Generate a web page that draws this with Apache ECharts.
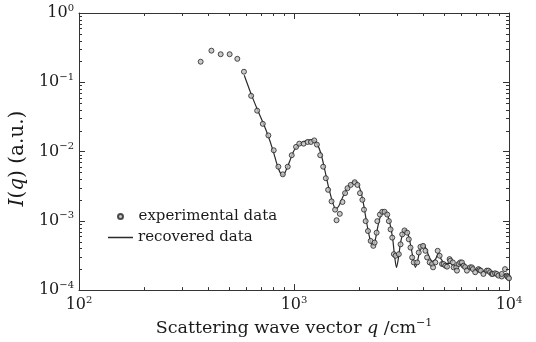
<!DOCTYPE html>
<html>
<head>
<meta charset="utf-8">
<script src="https://cdn.jsdelivr.net/npm/echarts@6/dist/echarts.min.js"></script>
<style>html,body{margin:0;padding:0;background:#fff}#c{width:536px;height:342px}</style>
</head>
<body>
<div id="c"></div>
<script>
// ---- data ----
const expQ = [368, 413, 456, 502, 545, 585, 632, 674, 716, 760, 805, 846, 887, 935, 976, 1022, 1058, 1109, 1157, 1199, 1242, 1278, 1324, 1367, 1406, 1441, 1495, 1553, 1577, 1633, 1681, 1728, 1773, 1836, 1916, 1972, 2027, 2080, 2116, 2154, 2208, 2273, 2339, 2371, 2423, 2441, 2509, 2574, 2638, 2715, 2762, 2813, 2864, 2914, 2967, 3073, 3130, 3187, 3266, 3361, 3419, 3482, 3545, 3606, 3740, 3804, 3873, 3986, 4085, 4159, 4276, 4387, 4435, 4545, 4658, 4758, 4881, 4963, 5056, 5148, 5292, 5333, 5480, 5523, 5684, 5727, 5827, 5931, 6039, 6143, 6250, 6371, 6598, 6720, 6790, 6962, 7209, 7289, 7396, 7603, 7886, 8022, 8166, 8317, 8405, 8614, 8774, 8925, 9252, 9252, 9583, 9759, 9819, 9926, 10000];
const expI = [0.198, 0.286, 0.254, 0.254, 0.218, 0.142, 0.0637, 0.0389, 0.0251, 0.0171, 0.01044, 0.00604, 0.00469, 0.00604, 0.00886, 0.01167, 0.0130, 0.0130, 0.01376, 0.01376, 0.01449, 0.01259, 0.00886, 0.00604, 0.00412, 0.0028, 0.00191, 0.00145, 0.00102, 0.00126, 0.00187, 0.00251, 0.00296, 0.0033, 0.00361, 0.0033, 0.00251, 0.00201, 0.00145, 0.00099, 0.000713, 0.000513, 0.000435, 0.000485, 0.000674, 0.00099, 0.00123, 0.00135, 0.00135, 0.00123, 0.00099, 0.000752, 0.000572, 0.00033, 0.000313, 0.00033, 0.000458, 0.000637, 0.000727, 0.000674, 0.000541, 0.000411, 0.000296, 0.000251, 0.000251, 0.000349, 0.000421, 0.000435, 0.000369, 0.000296, 0.000251, 0.000238, 0.000213, 0.000251, 0.000369, 0.000313, 0.000238, 0.000238, 0.000225, 0.000218, 0.00028, 0.000265, 0.000251, 0.000213, 0.000213, 0.000191, 0.000238, 0.000251, 0.000251, 0.000225, 0.000215, 0.000191, 0.000213, 0.000213, 0.000201, 0.000181, 0.000201, 0.000195, 0.000191, 0.000171, 0.000191, 0.000191, 0.000181, 0.000171, 0.000171, 0.000175, 0.000171, 0.000162, 0.000157, 0.000171, 0.000201, 0.000162, 0.000157, 0.000153, 0.000148];
const fitQ = [587, 632, 674, 718, 758, 799, 834, 861, 890, 918, 958, 1000, 1055, 1113, 1173, 1225, 1278, 1334, 1392, 1452, 1516, 1565, 1616, 1686, 1760, 1836, 1916, 1979, 2043, 2110, 2178, 2248, 2314, 2371, 2448, 2528, 2610, 2695, 2783, 2873, 2935, 2998, 3063, 3130, 3229, 3300, 3407, 3518, 3594, 3671, 3750, 3873, 3998, 4128, 4263, 4401, 4545, 4692, 4844, 5056, 5333, 5623, 5931, 6255, 6598, 6962, 7340, 7743, 8166, 8614, 9086, 9583, 10000];
const fitI = [0.126, 0.0674, 0.0411, 0.026, 0.0169, 0.01033, 0.00652, 0.00501, 0.00454, 0.00535, 0.00744, 0.01033, 0.01259, 0.0139, 0.0146, 0.0146, 0.013, 0.00937, 0.00535, 0.00296, 0.00181, 0.00148, 0.00164, 0.0022, 0.00286, 0.00338, 0.00373, 0.00349, 0.00268, 0.00169, 0.000936, 0.000572, 0.00044, 0.000485, 0.000794, 0.00118, 0.00139, 0.0013, 0.000968, 0.000572, 0.000316, 0.000213, 0.000296, 0.000485, 0.000697, 0.000744, 0.000611, 0.000385, 0.000268, 0.000213, 0.00026, 0.000398, 0.000454, 0.000385, 0.000296, 0.00026, 0.000277, 0.000338, 0.000277, 0.000243, 0.000243, 0.00022, 0.000228, 0.000213, 0.000206, 0.0002, 0.000193, 0.000187, 0.000181, 0.000175, 0.000169, 0.000169, 0.000164];
const xMajor = [100, 1000, 10000];
const yMajor = [1e-4, 1e-3, 1e-2, 1e-1, 1];
const seriesNames = ['experimental data', 'recovered data'];
const xTitle = 'Scattering wave vector ';
const yTitleTail = ' (a.u.)';

// ---- helpers ----
const FONT = 'DejaVu Serif';
const INK = '#1a1a1a';
const AX = '#333';
const TICK = '#333';
function minorValues(lo, hi) {
  const raw = [];
  for (let e = Math.round(Math.log10(lo)); e < Math.round(Math.log10(hi)); e++) {
    for (let m = 2; m <= 9; m++) raw.push(+(m * Math.pow(10, e)).toPrecision(3));
  }
  return raw;
}
function powLabel(v) {
  const e = Math.round(Math.log10(v));
  return '{b|10}{s|' + String(e).replace('-', '\u2212') + '}';
}
const labelRich = {
  b: { fontSize: 16, fontFamily: FONT, color: INK, lineHeight: 20 },
  s: { fontSize: 10, fontFamily: FONT, color: INK, verticalAlign: 'top', lineHeight: 12 }
};
function mkAxis(pos, lo, hi, showLabels, extra) {
  return Object.assign({
    type: 'log', logBase: 10, min: lo, max: hi, position: pos,
    splitLine: { show: false }, splitArea: { show: false },
    axisLine: { show: true, onZero: false, lineStyle: { color: AX, width: 1 } },
    axisTick: { show: true, inside: true, length: 6, lineStyle: { color: TICK, width: 1 } },
    axisLabel: showLabels ? { show: true, formatter: powLabel, rich: labelRich, margin: 5 } : { show: false }
  }, extra || {});
}

const xAxes = [
  mkAxis('bottom', 100, 10000, true, {
    name: '{t|' + xTitle + '}{i|q}{t| /cm}{s|\u22121}',
    nameLocation: 'middle', nameGap: 23,
    nameTextStyle: {
      rich: {
        t: { fontSize: 17.5, fontFamily: FONT, color: INK, lineHeight: 20 },
        i: { fontSize: 17.5, fontFamily: FONT, fontStyle: 'italic', color: INK, lineHeight: 20 },
        s: { fontSize: 11, fontFamily: FONT, color: INK, verticalAlign: 'top', lineHeight: 12 }
      }
    }
  }),
  mkAxis('top', 100, 10000, false)
];
const yAxes = [
  mkAxis('left', 1e-4, 1, true, {
    name: '{i|I}{t|(}{i|q}{t|)' + yTitleTail + '}',
    nameLocation: 'middle', nameGap: 42, nameRotate: 90,
    nameTextStyle: {
      padding: [0, 14, 0, 0],
      rich: {
        t: { fontSize: 20, fontFamily: FONT, color: INK, lineHeight: 22 },
        i: { fontSize: 20, fontFamily: FONT, fontStyle: 'italic', color: INK, lineHeight: 22 }
      }
    }
  }),
  mkAxis('right', 1e-4, 1, false)
];

const legendText = { fontFamily: FONT, fontSize: 15, color: INK };
const chart = echarts.init(document.getElementById('c'), null, { renderer: 'canvas' });
chart.setOption({
  animation: false,
  backgroundColor: '#fff',
  grid: { left: 77, right: 27, top: 13, bottom: 49, containLabel: false },
  xAxis: xAxes,
  yAxis: yAxes,
  legend: [
    {
      data: [seriesNames[0]], left: 117, top: 209, padding: 0, itemWidth: 26, itemHeight: 5,
      textStyle: legendText
    },
    {
      data: [{ name: seriesNames[1], icon: 'rect' }], left: 108, top: 230, padding: 0, itemWidth: 25, itemHeight: 1.5,
      textStyle: legendText
    }
  ],
  series: [
    {
      name: seriesNames[0], type: 'scatter', xAxisIndex: 0, yAxisIndex: 0,
      data: expQ.map((q, i) => [q, expI[i]]),
      symbol: 'circle', symbolSize: 5,
      itemStyle: { color: '#bdbdbd', borderColor: '#222', borderWidth: 1 },
      z: 3
    },
    {
      name: seriesNames[1], type: 'line', xAxisIndex: 0, yAxisIndex: 0,
      data: fitQ.map((q, i) => [q, fitI[i]]),
      symbol: 'none', showSymbol: false, smooth: 0.3,
      lineStyle: { color: '#2a2a2a', width: 1.2 },
      itemStyle: { color: '#2a2a2a' },
      z: 2
    }
  ]
});

// minor ticks (2..9 x 10^k) placed with the chart's own axis conversion
function drawMinorTicks() {
  const els = [];
  const bl = chart.convertToPixel({ xAxisIndex: 0, yAxisIndex: 0 }, [100, 1e-4]);
  const tr = chart.convertToPixel({ xAxisIndex: 0, yAxisIndex: 0 }, [10000, 1]);
  const L = 3;
  const line = (x1, y1, x2, y2) => els.push({
    type: 'line', silent: true, z: 10,
    shape: { x1, y1, x2, y2 }, style: { stroke: TICK, lineWidth: 1 }
  });
  minorValues(100, 10000).forEach(v => {
    const x = Math.round(chart.convertToPixel({ xAxisIndex: 0 }, v)) + 0.5;
    line(x, bl[1], x, bl[1] - L);
    line(x, tr[1], x, tr[1] + L);
  });
  minorValues(1e-4, 1).forEach(v => {
    const y = Math.round(chart.convertToPixel({ yAxisIndex: 0 }, v)) + 0.5;
    line(bl[0], y, bl[0] + L, y);
    line(tr[0], y, tr[0] - L, y);
  });
  chart.setOption({ graphic: { elements: els } });
}
drawMinorTicks();
</script>
</body>
</html>
